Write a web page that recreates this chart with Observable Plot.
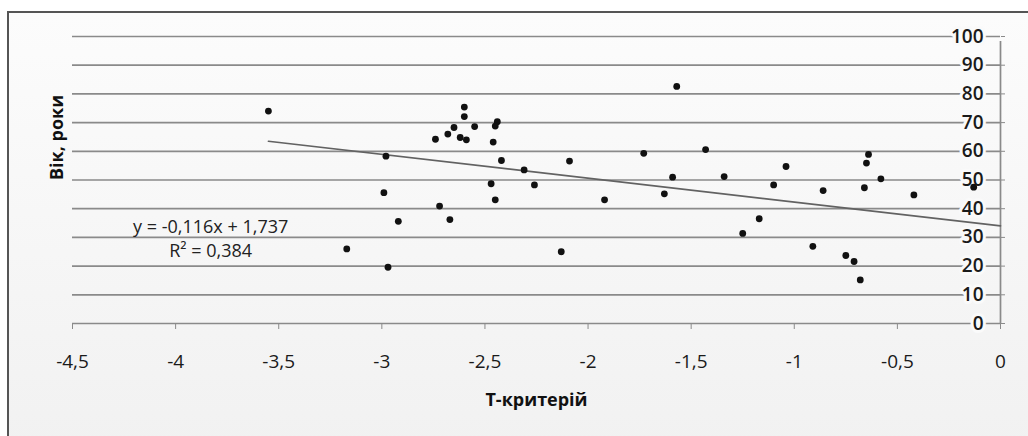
<!DOCTYPE html>
<html><head><meta charset="utf-8">
<script src="https://cdn.jsdelivr.net/npm/d3@7"></script>
<script src="https://cdn.jsdelivr.net/npm/@observablehq/plot@0.6"></script>
<style>
html,body{margin:0;padding:0;background:#fff;}
#wrap{position:relative;width:1028px;height:436px;overflow:hidden;}
#frame{position:absolute;left:7px;top:11px;width:1030px;height:440px;border-left:2px solid #555;border-top:2px solid #555;background:linear-gradient(#fcfcfc,#f1f1f1);}
#chart{position:absolute;left:0;top:0;}
</style></head><body>
<div id="wrap"><div id="frame"></div><div id="chart"></div></div>
<script>
// T-критерій values
const tValues = [-3.55, -3.17, -2.98, -2.99, -2.97, -2.92, -2.74, -2.72, -2.68, -2.65, -2.67, -2.62, -2.59,
  -2.60, -2.60, -2.55, -2.47, -2.46, -2.45, -2.44, -2.45, -2.42, -2.31, -2.26, -2.13, -2.09, -1.92,
  -1.73, -1.63, -1.59, -1.57, -1.43, -1.34, -1.25, -1.17, -1.10, -1.04, -0.91, -0.86, -0.75, -0.71,
  -0.68, -0.66, -0.65, -0.64, -0.58, -0.42, -0.13];
// Вік, роки
const ages = [74, 26, 58.3, 45.6, 19.6, 35.6, 64.2, 40.9, 66, 68.3, 36.2, 64.8, 64,
  75.4, 72.1, 68.6, 48.7, 63.2, 43.1, 70.3, 68.8, 56.8, 53.5, 48.3, 25, 56.6, 43.1,
  59.3, 45.2, 51, 82.6, 60.6, 51.2, 31.4, 36.5, 48.3, 54.7, 26.9, 46.3, 23.7, 21.6,
  15.2, 47.3, 55.9, 58.9, 50.4, 44.8, 47.5];
// trend line end points
const trendT = [-3.55, 0];
const trendAge = [63.5, 34];
// ticks
const xTicks = [-4.5, -4, -3.5, -3, -2.5, -2, -1.5, -1, -0.5, 0];
const yTicks = [0, 10, 20, 30, 40, 50, 60, 70, 80, 90, 100];
// equation annotation
const equationLines = ["y = -0,116x + 1,737", "R\u00B2 = 0,384"];
const equationT = [-3.83, -3.83];
const equationAge = [33.6, 25.2];

const fmt = d => String(d).replace(".", ",");
const points = tValues.map((t, i) => ({t, age: ages[i]}));
const trend = trendT.map((t, i) => ({t, age: trendAge[i]}));
const grey = "#8a8a8a";

const plot = Plot.plot({
  width: 1028, height: 436,
  marginLeft: 72, marginRight: 28, marginTop: 36, marginBottom: 113,
  x: {domain: [-4.5, 0]},
  y: {domain: [0, 100]},
  style: {background: "transparent", fontFamily: "'Open Sans', sans-serif", color: "#1a1a1a"},
  marks: [
    Plot.ruleY(yTicks, {y: d => d, stroke: grey, strokeWidth: 1.7}),
    Plot.ruleX([0], {stroke: grey, strokeWidth: 1.7, y1: 0, y2: 100, insetBottom: -5}),
    Plot.axisX(xTicks, {tickSize: 6, tickPadding: 25, tickFormat: fmt, fontSize: 19, fontWeight: 500, stroke: grey, label: null}),
    Plot.axisY(yTicks, {anchor: "right", tickSize: 4, tickFormat: () => "", stroke: grey, label: null}),
    Plot.text(yTicks, {x: 0, y: d => d, text: d => String(d), textAnchor: "end", dx: -17, fontSize: 19, fontWeight: 600,
      fill: "#1a1a1a", stroke: "#fafafa", strokeWidth: 6, paintOrder: "stroke"}),
    Plot.line(trend, {x: "t", y: "age", stroke: "#626262", strokeWidth: 1.7}),
    Plot.dot(points, {x: "t", y: "age", r: 3.4, fill: "#111"}),
    Plot.text(equationLines, {x: (d, i) => equationT[i], y: (d, i) => equationAge[i], text: d => d,
      fontSize: 18, fontWeight: 500, fill: "#222"}),
    Plot.text(["Вік, роки"], {frameAnchor: "left", rotate: -90, dx: -15, fontSize: 18, fontWeight: "bold", fill: "#111"}),
    Plot.text(["Т-критерій"], {frameAnchor: "bottom", dy: 82, fontSize: 18, fontWeight: "bold", fill: "#111"})
  ]
});
document.getElementById("chart").appendChild(plot);
</script>
</body></html>
